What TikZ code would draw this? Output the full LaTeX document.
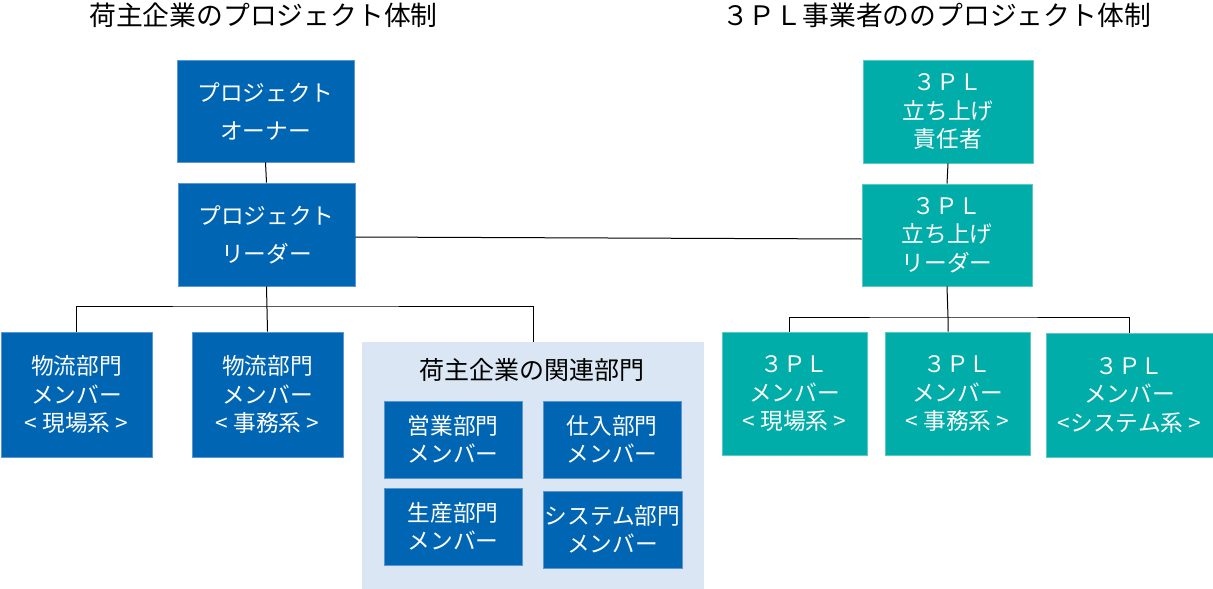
\documentclass[tikz,border=0pt]{standalone}
\usepackage{fontspec}
\setmainfont{Noto Sans CJK JP}
\definecolor{dblue}{RGB}{0,102,179}
\definecolor{bedge}{RGB}{90,150,210}
\definecolor{teal1}{RGB}{0,173,169}
\definecolor{tedge}{RGB}{90,200,196}
\definecolor{lblue}{RGB}{218,230,243}
\begin{document}
\begin{tikzpicture}[x=1pt,y=-1pt,
  bluebox/.style={fill=dblue,draw=bedge,line width=0.8pt,text=white,align=center,inner sep=0pt,
    font=\fontsize{22.7}{28.5}\selectfont},
  tealbox/.style={fill=teal1,draw=tedge,line width=0.8pt,text=white,align=center,inner sep=0pt,
    font=\fontsize{22.7}{28.5}\selectfont},
  ttl/.style={text=black,inner sep=0pt,font=\fontsize{26.8}{30}\selectfont},
  conn/.style={draw=black,line width=1pt}]
\useasboundingbox (0,0) rectangle (1213,589);
% titles
\node[ttl] (t_left) at (263.5,15) {荷主企業のプロジェクト体制};
\node[ttl] (t_right) at (936.5,15) {３ＰＬ事業者ののプロジェクト体制};
% left side
\node[bluebox,minimum width=177pt,minimum height=102pt,font=\fontsize{22.7}{38}\selectfont] (owner) at (265.5,111) {プロジェクト\\オーナー};
\node[bluebox,minimum width=177pt,minimum height=103pt,font=\fontsize{22.7}{38}\selectfont] (leader) at (266.5,234.5) {プロジェクト\\リーダー};
\node[bluebox,minimum width=151pt,minimum height=125pt] (b1) at (76.5,394.5) {物流部門\\メンバー\\< 現場系 >};
\node[bluebox,minimum width=151pt,minimum height=125pt] (b2) at (267.5,394.5) {物流部門\\メンバー\\< 事務系 >};
\node[fill=lblue,draw=none,minimum width=342pt,minimum height=247pt,inner sep=0pt] (grp) at (533,465.5) {};
\node[ttl,font=\fontsize{25}{28}\selectfont] (grptitle) at (532,370) {荷主企業の関連部門};
\node[bluebox,minimum width=138pt,minimum height=77pt] (s1) at (453,439.5) {営業部門\\メンバー};
\node[bluebox,minimum width=138pt,minimum height=77pt] (s2) at (612,439.5) {仕入部門\\メンバー};
\node[bluebox,minimum width=138pt,minimum height=77pt] (s3) at (453,526.5) {生産部門\\メンバー};
\node[bluebox,minimum width=139pt,minimum height=77pt] (s4) at (612.5,529.5) {システム部門\\メンバー};
% right side
\node[tealbox,minimum width=170pt,minimum height=103pt] (top3) at (948,111.5) {３ＰＬ\\立ち上げ\\責任者};
\node[tealbox,minimum width=170pt,minimum height=102pt] (lead3) at (947,235) {３ＰＬ\\立ち上げ\\リーダー};
\node[tealbox,minimum width=145pt,minimum height=123pt] (m1) at (794.5,393.5) {３ＰＬ\\メンバー\\< 現場系 >};
\node[tealbox,minimum width=145pt,minimum height=123pt] (m2) at (957.5,393.5) {３ＰＬ\\メンバー\\< 事務系 >};
\node[tealbox,minimum width=167pt,minimum height=124pt] (m3) at (1129.5,395) {３ＰＬ\\メンバー\\<システム系 >};
% connectors
\coordinate (busL) at (267,306);
\coordinate (busR) at (948,317);
\draw[conn] (owner.south) -- (leader.north);
\draw[conn] (leader.south) -- (b2.north);
\draw[conn] (b1.north) |- (busL) -| (grp.north);
\draw[conn] ([yshift=-2.5pt]leader.east) -- ([yshift=-4pt]lead3.west);
\draw[conn] (top3.south) -- (lead3.north);
\draw[conn] (lead3.south) -- (busR) -- (m2.north -| busR);
\draw[conn] ([xshift=-5.5pt]m1.north) |- (busR) -| (m3.north);
\end{tikzpicture}
\end{document}
